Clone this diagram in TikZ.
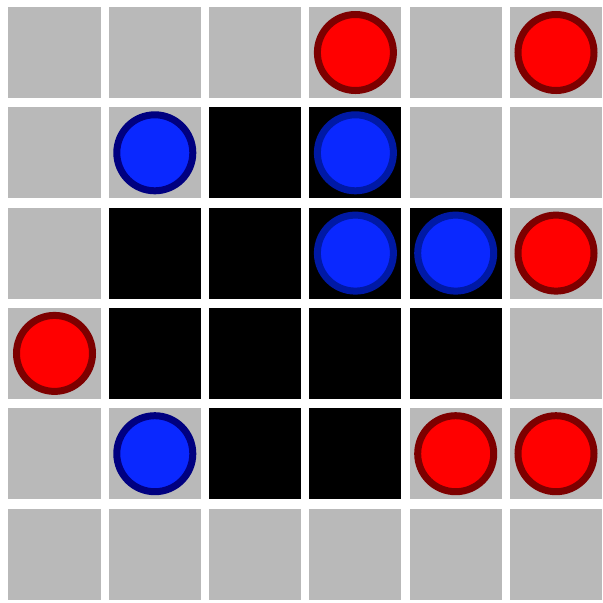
\documentclass[tikz,border=0pt]{standalone}
\definecolor{cellgray}{RGB}{185,185,185}
\definecolor{stonered}{RGB}{255,0,0}
\definecolor{stonereddark}{RGB}{125,0,0}
\definecolor{stoneblue}{RGB}{10,40,255}
\definecolor{stonebluedark}{RGB}{0,0,128}
\definecolor{stoneblueglow}{RGB}{0,25,165}
\begin{document}
\begin{tikzpicture}[x=0.03cm,y=-0.03cm,
  cellbox/.style={rectangle, minimum width=2.76cm, minimum height=2.73cm, inner sep=0pt, outer sep=0pt, fill=cellgray},
  stone/.style={circle, minimum size=2.28cm, inner sep=0pt, outer sep=0pt, line width=0.21cm},
  redstone/.style={stone, fill=stonered, draw=stonereddark},
  bluestone/.style={stone, fill=stoneblue, draw=stonebluedark},
  blueglowstone/.style={stone, fill=stoneblue, draw=stoneblueglow}]
\useasboundingbox[fill=white] (0,0) rectangle (603,602);
% grid of cells
\foreach \r in {0,...,5}
  \foreach \c in {0,...,5}
    \node[cellbox] (c\r\c) at ({54.5+100.3*\c},{52.5+100.3*\r}) {};
% black cells
\foreach \r/\c in {1/2,1/3,2/1,2/2,2/3,2/4,3/1,3/2,3/3,3/4,4/2,4/3}
  \fill[black] (c\r\c.south west) rectangle (c\r\c.north east);
% red stones
\foreach \r/\c in {0/3,0/5,2/5,3/0,4/4,4/5}
  \node[redstone] (r\r\c) at (c\r\c) {};
% blue stones on gray cells
\foreach \r/\c in {1/1,4/1}
  \node[bluestone] (b\r\c) at (c\r\c) {};
% blue stones on black cells
\foreach \r/\c in {1/3,2/3,2/4}
  \node[blueglowstone] (b\r\c) at (c\r\c) {};
\end{tikzpicture}
\end{document}
